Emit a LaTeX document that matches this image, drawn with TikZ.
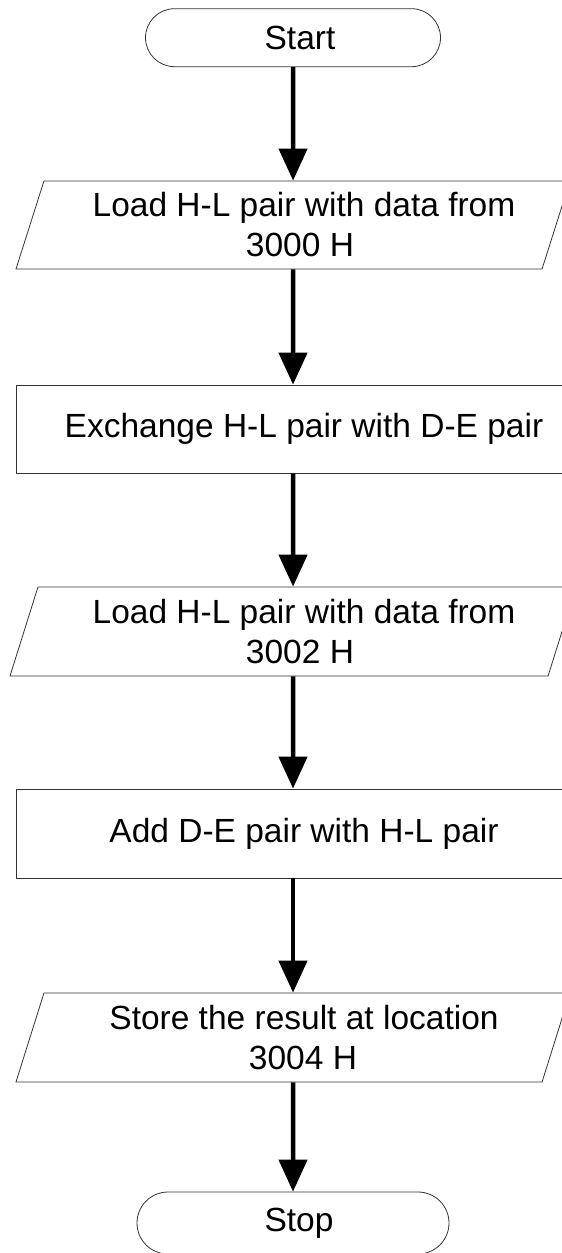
\documentclass[tikz,border=0pt]{standalone}
\usepackage{fontspec}
\setmainfont{Liberation Sans}
\usetikzlibrary{shapes.geometric,shapes.misc,arrows.meta}

\tikzset{
    terminal/.style={draw=black!80, line width=0.8pt, rounded rectangle, minimum width=295pt, minimum height=58pt, inner sep=0pt},
    io/.style={draw=black!80, line width=0.8pt, trapezium, trapezium left angle=66.6, trapezium right angle=113.4, trapezium stretches body, minimum width=554pt, minimum height=88pt, align=center, inner sep=0pt},
    process/.style={draw=black!80, line width=0.8pt, rectangle, minimum width=554pt, minimum height=88pt, inner sep=0pt},
    flow/.style={line width=4.5pt, -{Triangle[length=32pt,width=28pt]}}
}
\newcommand{\nudge}[1]{\hspace*{#1}}

\begin{document}
\begin{tikzpicture}[x=1pt, y=-1pt]
            \useasboundingbox (0,0) rectangle (562,1253);
            \begin{scope}[every node/.style={font=\fontsize{33.5}{40}\selectfont}]

                \node[terminal] (start) at (293,37.7) {\nudge{14pt}Start};
                \node[io] (load1) at (293,225) {\nudge{22pt}Load H-L pair with data from\\\nudge{14pt}3000 H};
                \node[process] (xchg) at (293,429) {\nudge{22pt}Exchange H-L pair with D-E pair};
                \node[io, minimum width=566pt, minimum height=89pt] (load2) at (293,631.5) {\nudge{22pt}Load H-L pair with data from\\\nudge{14pt}3002 H};
                \node[process, minimum height=89pt] (add) at (293,833.5) {\nudge{22pt}Add D-E pair with H-L pair};
                \node[io, minimum height=89pt] (store) at (293,1037.5) {\nudge{22pt}Store the result at location\\\nudge{20pt}3004 H};
                \node[terminal, minimum width=312pt, minimum height=62pt] (stop) at (293,1223) {\nudge{12pt}Stop};
            \end{scope}
            \path[flow] (start) edge (load1);
            \path[flow] (load1) edge (xchg);
            \path[flow] (xchg) edge (load2);
            \path[flow] (load2) edge (add);
            \path[flow] (add) edge (store);
            \path[flow] (store) edge (stop);
        \end{tikzpicture}
\end{document}
